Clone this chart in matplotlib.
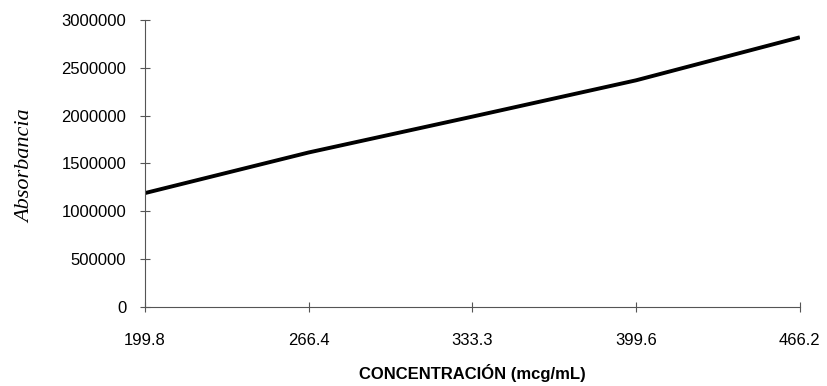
import matplotlib.pyplot as plt
from matplotlib import font_manager

concentracion = ['199.8', '266.4', '333.3', '399.6', '466.2']
absorbancia = [1190000, 1615000, 1990000, 2370000, 2820000]
y_ticks = [0, 500000, 1000000, 1500000, 2000000, 2500000, 3000000]

names = {f.name for f in font_manager.fontManager.ttflist}
narrow = 'Liberation Sans Narrow' if 'Liberation Sans Narrow' in names else 'Liberation Sans'

fig = plt.figure(figsize=(8.28, 3.86), dpi=100)
ax = fig.add_axes([0.175, 0.205, 0.791, 0.743])

pos = list(range(len(concentracion)))
ax.plot(pos, absorbancia, color='black', linewidth=2.8, solid_capstyle='butt')

ax.set_xlim(0, len(pos) - 1)
ax.set_ylim(0, 3000000)
ax.set_xticks(pos)
ax.set_xticklabels(concentracion)
ax.set_yticks(y_ticks)
ax.set_yticklabels([str(v) for v in y_ticks])

for s in ['top', 'right']:
    ax.spines[s].set_visible(False)
for s in ['left', 'bottom']:
    ax.spines[s].set_color('#555555')
    ax.spines[s].set_linewidth(0.8)

ax.tick_params(direction='inout', length=7, width=0.8, color='#555555',
               labelsize=12, pad=10)
ax.tick_params(axis='x', pad=15)
for lab in ax.get_xticklabels() + ax.get_yticklabels():
    lab.set_fontfamily(narrow)

ax.set_xlabel('CONCENTRACIÓN (mcg/mL)', fontfamily='Liberation Sans', fontweight='bold',
              fontsize=12, labelpad=12)
fig.text(0.031, 0.57, 'Absorbancia', rotation=90, fontfamily='Liberation Serif',
         fontstyle='italic', fontsize=16, ha='center', va='center')

fig.savefig('out.png', dpi=100, facecolor='white')
